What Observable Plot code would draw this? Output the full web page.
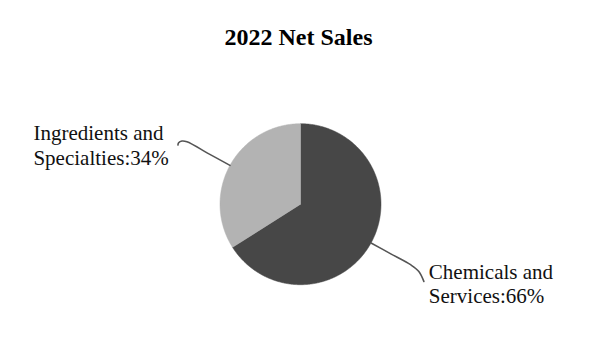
<!DOCTYPE html>
<html><head><meta charset="utf-8">
<script src="https://cdn.jsdelivr.net/npm/d3@7"></script>
<script src="https://cdn.jsdelivr.net/npm/@observablehq/plot@0.6"></script>
<style>html,body{margin:0;padding:0;background:#fff}</style>
</head><body><div id="chart"></div>
<script>
// ---- data ----
const title = "2022 Net Sales";
const categories = ["Chemicals and\nServices", "Ingredients and\nSpecialties"];
const values = [66, 34];
const colors = ["#474747", "#b3b3b3"];

// ---- layout ----
const W = 600, H = 350, CX = 300, CY = 203.7, R = 80.5;
// leader-line / label layout per slice (pixel offsets)
const leaderLayout = [
  {elbowR: 1.56, hook: [[8.3, 6.7], [13.3, 16.7]], labelDx: 5, labelDy: 1.65},
  {elbowR: 1.61, hook: [[-5, -0.7], [-8.3, 1], [-9, 3.3]], labelDx: -144.5, labelDy: -0.25}
];

const slices = d3.pie().sort(null).value(d => d.value)(
  categories.map((c, i) => ({category: c, value: values[i], color: colors[i]}))
);

// slice polygons in unit-radius coordinates
const poly = [];
slices.forEach(s => {
  const c = s.data.category;
  const n = Math.max(2, Math.ceil((s.endAngle - s.startAngle) / 0.01));
  poly.push({category: c, x: 0, y: 0});
  for (let k = 0; k <= n; k++) {
    const a = s.startAngle + (s.endAngle - s.startAngle) * k / n;
    poly.push({category: c, x: Math.sin(a), y: Math.cos(a)});
  }
  poly.push({category: c, x: 0, y: 0});
});

// leader lines and labels
const leaders = [], labels = [];
slices.forEach((s, i) => {
  const c = s.data.category, L = leaderLayout[i];
  const mid = (s.startAngle + s.endAngle) / 2;
  const sx = Math.sin(mid), sy = Math.cos(mid);
  leaders.push({category: c, x: sx, y: sy});
  const ex = sx * L.elbowR, ey = sy * L.elbowR;
  leaders.push({category: c, x: sx * (1 + L.elbowR) / 2, y: sy * (1 + L.elbowR) / 2});
  leaders.push({category: c, x: ex, y: ey});
  let last = [ex, ey];
  L.hook.forEach(([dx, dy]) => {
    last = [ex + dx / R, ey - dy / R];
    leaders.push({category: c, x: last[0], y: last[1]});
  });
  labels.push({
    text: `${c}:${s.data.value}%`,
    x: last[0] + L.labelDx / R,
    y: last[1] - L.labelDy / R
  });
});

const chart = Plot.plot({
  width: W, height: H,
  margin: 0,
  style: {fontFamily: "'Liberation Serif', 'Times New Roman', serif", background: "#fff", color: "#000"},
  x: {domain: [-1, 1], range: [CX - R, CX + R], axis: null},
  y: {domain: [-1, 1], range: [CY + R, CY - R], axis: null},
  color: {domain: categories, range: colors},
  marks: [
    Plot.line(poly, {x: "x", y: "y", z: "category", fill: "category", stroke: "category", strokeWidth: 0.5, curve: "linear"}),
    Plot.line(leaders, {x: "x", y: "y", z: "category", stroke: "#555", strokeWidth: 1.6, curve: "catmull-rom"}),
    Plot.text(labels, {x: "x", y: "y", text: "text", textAnchor: "start", lineAnchor: "middle", lineHeight: 1.15, fontSize: 21, fill: "#111"}),
    Plot.text([title], {frameAnchor: "top", text: d => d, fontSize: 24, fontWeight: "bold", dy: 27.3, dx: -2, fill: "#000"})
  ]
});
document.getElementById("chart").appendChild(chart);
</script>
</body></html>
